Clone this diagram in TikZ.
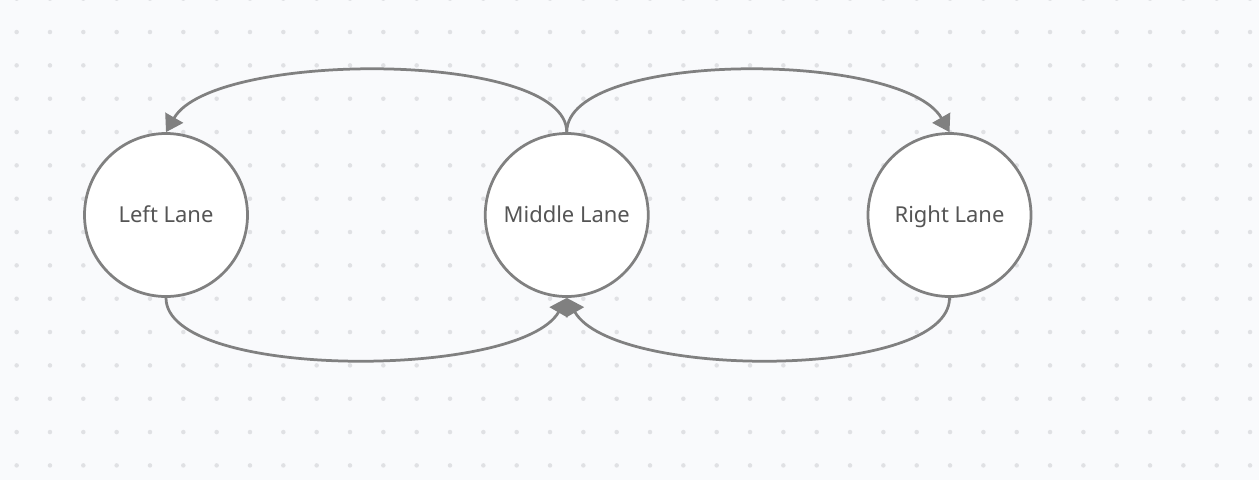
\documentclass[tikz,border=0pt]{standalone}
\usepackage{fontspec}
\setmainfont{Noto Sans}
\usetikzlibrary{arrows.meta, positioning}
\definecolor{edge}{HTML}{808080}
\definecolor{label}{HTML}{555555}
\definecolor{paper}{HTML}{F9FAFC}
\definecolor{dot}{HTML}{E0E1E4}

\begin{document}
\begin{tikzpicture}[
      lane/.style={circle, draw=edge, line width=0.055cm, fill=white, minimum size=3.26cm,
        inner sep=0pt, text height=1.08em, text depth=0.22em,
        font=\fontsize{12.5}{15}\selectfont, text=label},
      link/.style={-{Triangle[length=9.5pt, width=11.5pt]}, line width=0.055cm, color=edge},
      node distance=4.7cm]
    % canvas and dot grid
    \fill[paper] (0,0) rectangle (25.18,-9.6);
    \useasboundingbox (0,0) rectangle (25.18,-9.6);
    \foreach \i in {0,...,37}
      \foreach \j in {0,...,14}
        \fill[dot] (0.333+0.6667*\i, 0.026-0.6667*\j) circle (0.045);
    % lanes
    \node[lane] (left) at (3.32,-4.3) {Left Lane};
    \node[lane, right=4.7cm of left] (mid) {Middle Lane};
    \node[lane, right=4.34cm of mid] (right) {Right Lane};
    % lane changes
    \draw[link] (mid.north) .. controls +(0,1.64) and +(0.94,1.64) .. (left.north);
    \draw[link] (mid.north) .. controls +(0,1.64) and +(-0.94,1.64) .. (right.north);
    \draw[link] (left.south) .. controls +(0,-1.64) and +(-0.94,-1.64) .. (mid.south);
    \draw[link] (right.south) .. controls +(0,-1.64) and +(0.94,-1.64) .. (mid.south);
  \end{tikzpicture}
\end{document}
